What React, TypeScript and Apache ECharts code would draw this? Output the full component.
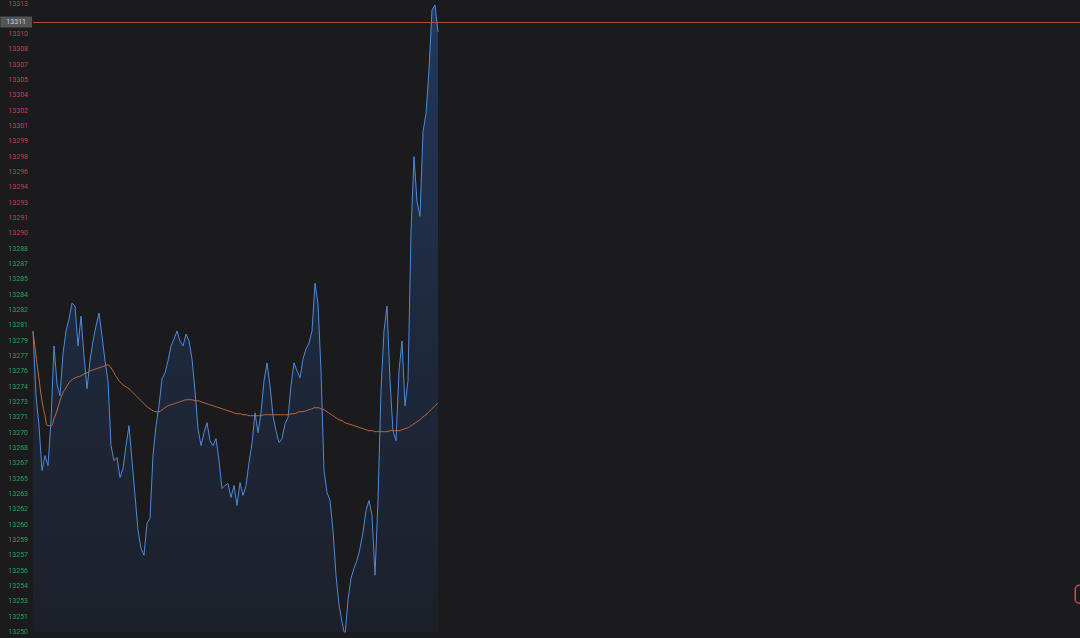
import React, { useEffect, useRef } from "react";
import * as echarts from "echarts";

// ---- data ----
const slotCount = 350; // total time slots in the session
const categories = Array.from({ length: slotCount }, (_, i) => String(i));

const priceValues = [
  13279.8, 13273.3, 13270.3, 13265.8, 13267.3, 13266.3, 13270.8, 13278.3, 13274.5, 13273.3,
  13277.5, 13279.8, 13281.0, 13282.6, 13282.3, 13278.3, 13281.3, 13277.3, 13274.0, 13276.8,
  13278.8, 13280.3, 13281.6, 13279.3, 13276.8, 13274.8, 13268.3, 13266.8, 13267.1, 13265.1,
  13266.0, 13268.3, 13270.3, 13266.8, 13263.3, 13259.8, 13258.0, 13257.3, 13260.5, 13261.0,
  13267.3, 13270.3, 13272.3, 13275.0, 13275.6, 13276.8, 13278.3, 13279.0, 13279.8, 13278.8,
  13278.3, 13279.5, 13278.8, 13277.0, 13273.8, 13270.0, 13268.3, 13269.6, 13270.6, 13268.8,
  13268.3, 13269.0, 13266.8, 13264.0, 13264.3, 13264.5, 13263.1, 13264.3, 13262.3, 13264.6,
  13263.3, 13264.3, 13266.6, 13268.5, 13271.6, 13269.6, 13271.6, 13274.8, 13276.6, 13274.3,
  13271.3, 13269.8, 13268.6, 13269.0, 13270.5, 13271.1, 13274.3, 13276.6, 13275.8, 13275.1,
  13277.0, 13278.0, 13278.6, 13279.8, 13284.6, 13282.5, 13275.8, 13265.8, 13263.6, 13262.8,
  13259.8, 13255.3, 13252.3, 13250.6, 13249.2, 13252.8, 13255.0, 13256.0, 13256.8, 13258.0,
  13259.6, 13261.8, 13262.8, 13261.3, 13255.3, 13262.8, 13273.8, 13279.8, 13282.3, 13274.8,
  13269.8, 13268.8, 13275.8, 13278.8, 13272.3, 13274.8, 13289.8, 13297.3, 13292.8, 13291.3,
  13299.8, 13301.6, 13306.0, 13312.0, 13312.5, 13309.8,
];

const maValues = [
  13279.8, 13277.3, 13275.0, 13272.8, 13271.3, 13270.3, 13270.3, 13271.0, 13271.8, 13272.8,
  13273.6, 13274.1, 13274.6, 13274.9, 13275.1, 13275.2, 13275.3, 13275.5, 13275.6, 13275.8,
  13275.9, 13276.0, 13276.1, 13276.2, 13276.3, 13276.4, 13276.1, 13275.6, 13275.1, 13274.7,
  13274.4, 13274.2, 13274.0, 13273.7, 13273.4, 13273.1, 13272.8, 13272.5, 13272.2, 13272.0,
  13271.8, 13271.7, 13271.7, 13271.9, 13272.1, 13272.3, 13272.4, 13272.5, 13272.6, 13272.7,
  13272.8, 13272.9, 13272.9, 13272.9, 13272.8, 13272.8, 13272.7, 13272.6, 13272.5, 13272.4,
  13272.3, 13272.2, 13272.1, 13272.0, 13271.9, 13271.8, 13271.7, 13271.6, 13271.5, 13271.5,
  13271.4, 13271.4, 13271.3, 13271.3, 13271.3, 13271.3, 13271.3, 13271.4, 13271.4, 13271.4,
  13271.4, 13271.4, 13271.4, 13271.4, 13271.4, 13271.4, 13271.5, 13271.5, 13271.6, 13271.7,
  13271.7, 13271.8, 13271.9, 13272.0, 13272.1, 13272.1, 13272.0, 13271.9, 13271.7, 13271.5,
  13271.3, 13271.1, 13270.9, 13270.8, 13270.6, 13270.5, 13270.4, 13270.3, 13270.2, 13270.1,
  13270.0, 13269.9, 13269.8, 13269.8, 13269.7, 13269.7, 13269.7, 13269.7, 13269.7, 13269.8,
  13269.8, 13269.8, 13269.8, 13269.9, 13270.0, 13270.1, 13270.3, 13270.5, 13270.7, 13270.9,
  13271.2, 13271.4, 13271.7, 13272.0, 13272.3, 13272.6,
];

const yTickLabels = [
  "13250", "13251", "13253", "13254", "13256", "13257", "13259", "13260", "13262", "13263",
  "13265", "13267", "13268", "13270", "13271", "13273", "13274", "13276", "13277", "13279",
  "13281", "13282", "13284", "13285", "13287", "13288", "13290", "13291", "13293", "13294",
  "13296", "13298", "13299", "13301", "13302", "13304", "13305", "13307", "13308", "13310",
  "13311", "13313",
];

const axisMin = 13249.6;
const tickStep = 1.538;
const redFromTick = 26; // labels at/above the reference price are red
const currentPrice = 13310.8;
const currentPriceLabel = "13311";

export default function App() {
  const ref = useRef<HTMLDivElement>(null);

  useEffect(() => {
    if (!ref.current) return;
    const chart = echarts.init(ref.current, null, { renderer: "svg" });
    const tickCount = yTickLabels.length - 1;
    const coveredTick = Math.round((currentPrice - axisMin) / tickStep);

    chart.setOption({
      animation: false,
      backgroundColor: "#1b1b1d",
      grid: { left: 33, right: 0, top: 2, bottom: 6, containLabel: false },
      xAxis: {
        type: "category",
        data: categories,
        boundaryGap: false,
        show: false,
      },
      yAxis: [
        {
          type: "value",
          min: axisMin,
          max: axisMin + tickStep * tickCount,
          show: false,
          splitLine: { show: false },
        },
        {
          type: "value",
          position: "left",
          min: 0,
          max: tickCount,
          interval: 1,
          axisLine: { show: false },
          axisTick: { show: false },
          splitLine: { show: false },
          axisLabel: {
            fontSize: 7,
            fontFamily: "Roboto, sans-serif",
            margin: 5,
            // the tick under the current-price tag is covered by that tag
            formatter: (v: number) =>
              Math.round(v) === coveredTick ? "" : yTickLabels[Math.round(v)] ?? "",
            color: (v: number) =>
              Math.round(v) >= redFromTick ? "#c23f50" : "#27a05b",
          },
        },
      ],
      series: [
        {
          type: "line",
          name: "price",
          data: priceValues,
          yAxisIndex: 0,
          showSymbol: false,
          symbol: "none",
          lineStyle: { color: "#4d8ad8", width: 1 },
          areaStyle: {
            origin: "start",
            color: new echarts.graphic.LinearGradient(0, 0, 0, 1, [
              { offset: 0, color: "rgba(44,96,178,0.6)" },
              { offset: 1, color: "rgba(36,62,120,0.2)" },
            ]),
          },
          z: 3,
          markLine: {
            silent: true,
            symbol: "none",
            animation: false,
            lineStyle: { color: "#b8533e", width: 1, type: "solid", opacity: 0.9 },
            label: {
              show: true,
              position: "start",
              distance: 1,
              formatter: () => currentPriceLabel,
              fontSize: 7,
              fontFamily: "Roboto, sans-serif",
              color: "#e0e0e0",
              backgroundColor: "#5b5b5d",
              padding: [2, 6, 2, 6],
            },
            data: [{ yAxis: currentPrice }],
          },
        },
        {
          type: "line",
          name: "avg",
          data: maValues,
          yAxisIndex: 0,
          showSymbol: false,
          symbol: "none",
          smooth: true,
          lineStyle: { color: "#c26c3e", width: 1 },
          z: 4,
        },
      ],
      graphic: [
        {
          type: "rect",
          right: -14,
          bottom: 34,
          shape: { width: 18, height: 18, r: 4 },
          style: { fill: "rgba(0,0,0,0)", stroke: "#d0485a", lineWidth: 1.5 },
        },
      ],
    });

    return () => chart.dispose();
  }, []);

  return (
    <div
      ref={ref}
      style={{ position: "fixed", left: 0, top: 0, width: 1080, height: 638 }}
    />
  );
}
